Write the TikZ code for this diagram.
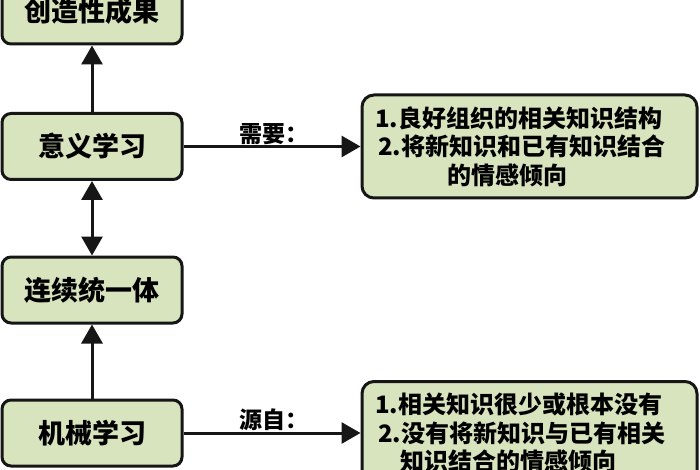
\documentclass[tikz,border=0pt]{standalone}
\usepackage{fontspec}
\newfontfamily\cjk{Noto Sans CJK SC}[BoldFont={Noto Sans CJK SC Black}]
\usetikzlibrary{arrows.meta,positioning}
\definecolor{boxgreen}{HTML}{D7E4BD}
\definecolor{edge}{HTML}{161616}
\tikzset{
  stagebox/.style={draw=edge,line width=3pt,rounded corners=9pt,fill=boxgreen,
    minimum width=180pt,minimum height=66pt,inner sep=0pt,
    font=\cjk\bfseries\fontsize{27}{30}\selectfont},
  notebox/.style={draw=edge,line width=3pt,rounded corners=12pt,fill=boxgreen,
    minimum width=335pt,minimum height=103pt,inner sep=0pt,align=left,text width=309pt,
    font=\cjk\bfseries\fontsize{24}{28.5}\selectfont},
  flow/.style={draw=edge,line width=3pt,-{Triangle[length=19pt,width=21pt]}},
  tag/.style={font=\cjk\bfseries\fontsize{23}{25}\selectfont}
}
\begin{document}
\begin{tikzpicture}[x=1pt,y=-1pt]
  \useasboundingbox[fill=white] (0,0) rectangle (700,470);

  \node[stagebox] (result) at (92,11) {创造性成果};
  \node[stagebox] (meaning) at (92,146.5) {意义学习};
  \node[stagebox] (unity) at (92,290) {连续统一体};
  \node[stagebox] (rote) at (92,433) {机械学习};

  \node[notebox] (need) at (529.5,146.5)
    {1.良好组织的相关知识结构\\\hspace*{3pt}2.将新知识和已有知识结合\\\hspace*{72pt}的情感倾向};
  \node[notebox] (source) at (529.5,433)
    {1.相关知识很少或根本没有\\\hspace*{3pt}2.没有将新知识与已有相关\\\hspace*{25pt}知识结合的情感倾向};

  % vertical links
  \draw[flow] (meaning) -- (result);
  \draw[flow,{Triangle[length=19pt,width=21pt]}-{Triangle[length=19pt,width=21pt]}] (meaning) -- (unity);
  \draw[flow] (rote) -- (unity);

  % side links
  \draw[flow] (meaning) -- (need);
  \node[tag] at (274,134) {需要：};
  \draw[flow] (rote) -- (source);
  \node[tag] at (274,420) {源自：};
\end{tikzpicture}
\end{document}
